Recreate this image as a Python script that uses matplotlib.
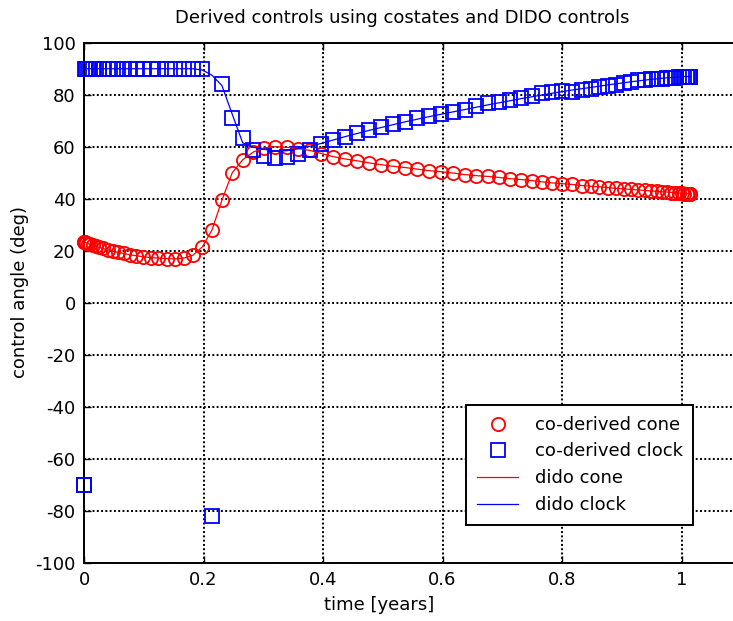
import matplotlib
matplotlib.use("Agg")
import matplotlib.pyplot as plt
from matplotlib.lines import Line2D

# Collocation times [years]
t_nodes = [
    0.0000, 0.0004, 0.0016, 0.0036, 0.0064, 0.0100, 0.0144, 0.0195, 0.0255, 0.0322,
    0.0396, 0.0478, 0.0567, 0.0663, 0.0766, 0.0876, 0.0993, 0.1116, 0.1246, 0.1381,
    0.1523, 0.1670, 0.1822, 0.1980, 0.2142, 0.2309, 0.2481, 0.2656, 0.2835, 0.3017,
    0.3203, 0.3392, 0.3584, 0.3778, 0.3974, 0.4172, 0.4371, 0.4571, 0.4772, 0.4974,
    0.5176, 0.5378, 0.5579, 0.5779, 0.5978, 0.6176, 0.6372, 0.6566, 0.6758, 0.6947,
    0.7133, 0.7315, 0.7494, 0.7669, 0.7841, 0.8008, 0.8170, 0.8328, 0.8480, 0.8627,
    0.8769, 0.8904, 0.9034, 0.9157, 0.9274, 0.9384, 0.9487, 0.9583, 0.9672, 0.9754,
    0.9828, 0.9895, 0.9955, 1.0006, 1.0050, 1.0086, 1.0114, 1.0134, 1.0146, 1.0150,
]

# Cone angle derived from the costates [deg]
coderived_cone = [
    23.5, 23.4, 23.3, 23.1, 22.8, 22.5, 22.2, 21.8, 21.3, 20.9,
    20.4, 19.9, 19.4, 19.0, 18.5, 18.1, 17.7, 17.4, 17.2, 17.0,
    16.9, 17.2, 18.3, 21.5, 28.0, 39.5, 50.0, 55.0, 58.0, 59.6,
    60.0, 59.8, 59.3, 58.6, 57.4, 56.2, 55.3, 54.6, 53.8, 53.1,
    52.5, 52.0, 51.4, 50.8, 50.4, 49.9, 49.3, 48.9, 48.6, 48.2,
    47.7, 47.4, 47.0, 46.5, 46.1, 45.8, 45.5, 45.1, 44.8, 44.6,
    44.3, 44.0, 43.8, 43.6, 43.4, 43.2, 43.0, 42.9, 42.7, 42.6,
    42.4, 42.3, 42.2, 42.1, 42.0, 42.0, 41.9, 41.9, 41.9, 41.9,
]

# Clock angle derived from the costates [deg]
coderived_clock = [
    -70.0, -70.0, 90.0, 90.0, 90.0, 90.0, 90.0, 90.0, 90.0, 90.0,
    90.0, 90.0, 90.0, 90.0, 90.0, 90.0, 90.0, 90.0, 90.0, 90.0,
    90.0, 90.0, 90.0, 90.0, -82.0, 84.0, 71.2, 63.3, 58.8, 56.4,
    55.5, 56.2, 57.2, 58.6, 61.0, 62.5, 63.9, 65.2, 66.4, 67.6,
    68.6, 69.7, 70.9, 72.0, 72.6, 73.5, 74.3, 75.8, 76.7, 77.3,
    78.0, 78.6, 79.7, 80.5, 81.1, 81.6, 81.2, 81.7, 82.2, 82.8,
    83.3, 83.8, 84.4, 85.0, 85.5, 85.8, 85.9, 86.0, 86.1, 86.3,
    86.5, 86.6, 86.8, 86.9, 87.0, 87.0, 87.0, 87.0, 87.0, 87.0,
]

# DIDO solution controls [deg]
dido_cone = list(coderived_cone)
dido_clock = [
    90.0, 90.0, 90.0, 90.0, 90.0, 90.0, 90.0, 90.0, 90.0, 90.0,
    90.0, 90.0, 90.0, 90.0, 90.0, 90.0, 90.0, 90.0, 90.0, 90.0,
    90.0, 90.0, 90.0, 89.5, 87.5, 83.5, 72.5, 61.5, 59.8, 59.0,
    58.3, 58.5, 59.2, 60.2, 61.3, 62.6, 63.9, 65.1, 66.3, 67.4,
    68.5, 69.6, 70.6, 71.6, 72.5, 73.4, 74.3, 75.2, 76.1, 76.9,
    77.7, 78.5, 79.2, 79.9, 80.6, 81.2, 81.8, 82.3, 82.8, 83.3,
    83.8, 84.2, 84.6, 85.0, 85.3, 85.6, 85.9, 86.1, 86.3, 86.5,
    86.6, 86.7, 86.8, 86.9, 87.0, 87.0, 87.0, 87.0, 87.0, 87.0,
]

x_ticks = [0, 0.2, 0.4, 0.6, 0.8, 1.0]
x_ticklabels = ["0", "0.2", "0.4", "0.6", "0.8", "1"]
y_ticks = [-100, -80, -60, -40, -20, 0, 20, 40, 60, 80, 100]
legend_labels = ["co-derived cone", "co-derived clock", "dido cone", "dido clock"]

plt.rcParams["font.family"] = ["DejaVu Sans"]
plt.rcParams["axes.unicode_minus"] = False
FS = 13

W, H = 733, 621
fig = plt.figure(figsize=(W / 100, H / 100), dpi=100)
ax = fig.add_axes([84 / W, 1 - 563 / H, 717 / W, (563 - 42.7) / H])

RED = "#ff0000"
BLUE = "#0000ff"
MEW = 1.3

ax.plot(t_nodes, coderived_cone, linestyle="none", marker="o", markersize=9.5,
        markerfacecolor="none", markeredgecolor=RED, markeredgewidth=MEW,
        zorder=3, clip_on=False)
ax.plot(t_nodes, coderived_clock, linestyle="none", marker="s", markersize=10,
        markerfacecolor="none", markeredgecolor=BLUE, markeredgewidth=MEW,
        zorder=3, clip_on=False)
ax.plot(t_nodes, dido_cone, color=RED, linewidth=0.9, zorder=4)
ax.plot(t_nodes, dido_clock, color=BLUE, linewidth=0.9, zorder=4)

ax.set_xlim(0, 1.2)
ax.set_ylim(-100, 100)
ax.set_xticks(x_ticks)
ax.set_xticklabels(x_ticklabels)
ax.set_yticks(y_ticks)
ax.tick_params(direction="in", length=5, width=1.0, top=True, right=True,
               labelsize=FS, pad=6, colors="black")
ax.grid(True, color="black", linestyle=(0, (1, 1.2)), linewidth=1.4)
ax.set_axisbelow(True)
for s in ax.spines.values():
    s.set_linewidth(1.4)
    s.set_color("black")

fig.text(402 / W, 1 - 18 / H, "Derived controls using costates and DIDO controls",
         ha="center", va="center", fontsize=FS)
ax.set_xlabel("time [years]", fontsize=FS)
ax.xaxis.set_label_coords((379 - 84) / 717, -(605 - 563) / 520.3)
ax.xaxis.label.set_va("center")
ax.set_ylabel("control angle (deg)", fontsize=FS)
ax.yaxis.set_label_coords((20 - 84) / 717, (563 - 292) / 520.3)
ax.yaxis.label.set_va("center")

handles = [
    Line2D([], [], linestyle="none", marker="o", markersize=9.5,
           markerfacecolor="none", markeredgecolor=RED, markeredgewidth=MEW),
    Line2D([], [], linestyle="none", marker="s", markersize=10,
           markerfacecolor="none", markeredgecolor=BLUE, markeredgewidth=MEW),
    Line2D([], [], color=RED, linewidth=0.9),
    Line2D([], [], color=BLUE, linewidth=0.9),
]
leg = ax.legend(handles, legend_labels, loc="upper left",
                bbox_to_anchor=(466 / W, 1 - 405 / H), bbox_transform=fig.transFigure,
                fontsize=FS, frameon=True, fancybox=False, borderpad=0.6,
                labelspacing=0.48, handlelength=2.3, handletextpad=0.9,
                borderaxespad=0.0)
frame = leg.get_frame()
frame.set_edgecolor("black")
frame.set_linewidth(1.4)
frame.set_facecolor("white")
frame.set_alpha(1.0)

fig.savefig("out.png", dpi=100)
